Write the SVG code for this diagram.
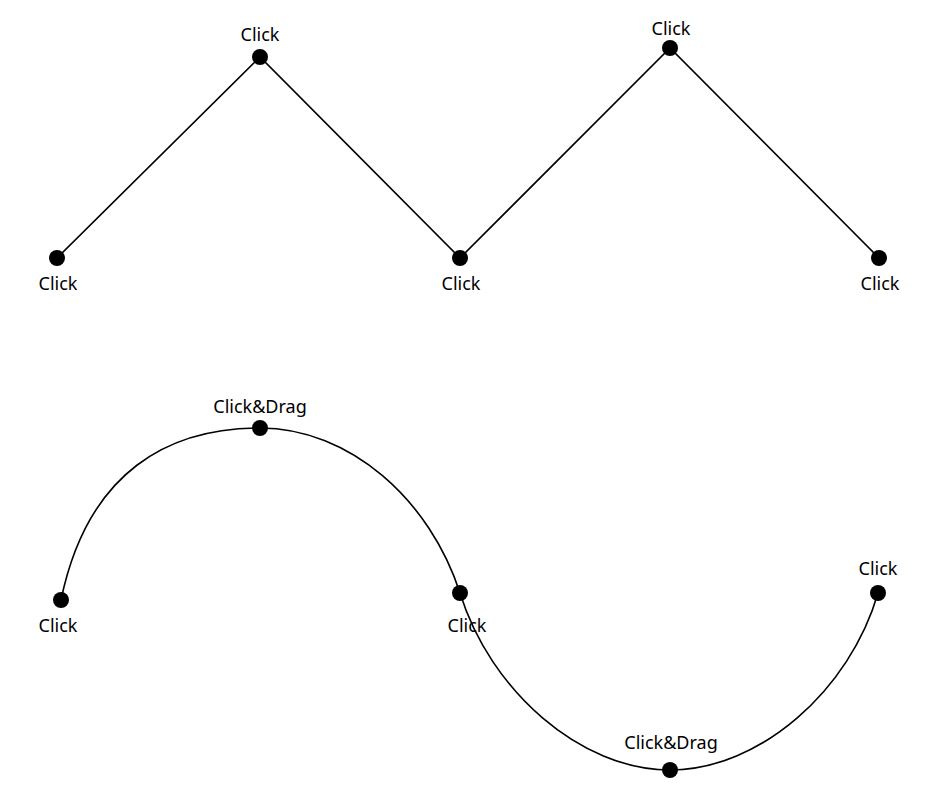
<svg xmlns="http://www.w3.org/2000/svg" width="939" height="809" viewBox="0 0 939 809">
<style>
.e{fill:none;stroke:#000;stroke-width:1.6}
.d{fill:#000}
text{font-family:"Noto Sans","DejaVu Sans",sans-serif;font-size:18px;fill:#000;text-anchor:middle}
</style>
<rect width="939" height="809" fill="#fff"/>
<g id="connectors">
<polyline class="e" points="57,258 260,57 460,258 670,48 879,258"/>
<path class="e" d="M61,600 C88,470 170,428 260,428 C350,428 430,500 460,593 C490,690 580,770 670,770 C760,770 850,690 878,593"/>
</g>
<g id="p1"><circle class="d" cx="57" cy="258" r="8"/><text x="58" y="290">Click</text></g>
<g id="p2"><circle class="d" cx="260" cy="57" r="8"/><text x="260" y="41">Click</text></g>
<g id="p3"><circle class="d" cx="460" cy="258" r="8"/><text x="461" y="290">Click</text></g>
<g id="p4"><circle class="d" cx="670" cy="48" r="8"/><text x="671" y="35">Click</text></g>
<g id="p5"><circle class="d" cx="879" cy="258" r="8"/><text x="880" y="290">Click</text></g>
<g id="q1"><circle class="d" cx="61" cy="600" r="8"/><text x="58" y="632">Click</text></g>
<g id="q2"><circle class="d" cx="260" cy="428" r="8"/><text x="260" y="413">Click&amp;Drag</text></g>
<g id="q3"><circle class="d" cx="460" cy="593" r="8"/><text x="467" y="632">Click</text></g>
<g id="q4"><circle class="d" cx="670" cy="770" r="8"/><text x="671" y="749">Click&amp;Drag</text></g>
<g id="q5"><circle class="d" cx="878" cy="593" r="8"/><text x="878" y="575">Click</text></g>
</svg>
